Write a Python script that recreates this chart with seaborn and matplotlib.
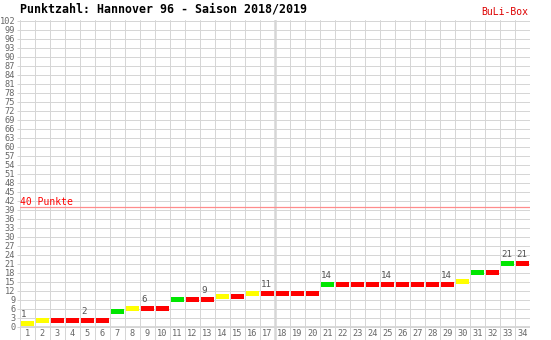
import matplotlib
matplotlib.use("Agg")
import matplotlib.pyplot as plt
import seaborn as sns
import pandas as pd

# ---- data ----
matchdays = [str(i) for i in range(1, 35)]
points = [1, 2, 2, 2, 2, 2, 5, 6, 6, 6, 9, 9, 9, 10, 10, 11, 11, 11, 11, 11,
          14, 14, 14, 14, 14, 14, 14, 14, 14, 15, 18, 18, 21, 21]
results = ["U", "U", "N", "N", "N", "N", "S", "U", "N", "N", "S", "N", "N", "U",
           "N", "U", "N", "N", "N", "N", "S", "N", "N", "N", "N", "N", "N", "N",
           "N", "U", "S", "N", "S", "N"]
labelled_days = ["1", "5", "9", "13", "17", "21", "25", "29", "33", "34"]
yticks = list(range(0, 103, 3))
title = "Punktzahl: Hannover 96 - Saison 2018/2019"
brand = "BuLi-Box"
target_value = 40
target_label = "40 Punkte"

palette = {"S": "#00e600", "U": "#ffff00", "N": "#ff0000"}
grid_c = "#d6d6d6"
mono = "DejaVu Sans Mono"

sns.set_theme(style="white")
plt.rcParams["font.family"] = [mono, "DejaVu Sans"]

W, H = 551, 340
fig = plt.figure(figsize=(W / 100, H / 100), dpi=100)
left_px, right_px, top_px = 20, 530, 20
ax = fig.add_axes([left_px / W, 0, (right_px - left_px) / W, (H - top_px) / H])

df = pd.DataFrame({"day": matchdays, "points": points, "result": results})
sns.barplot(data=df, x="day", y="points", hue="result", palette=palette,
            order=matchdays, dodge=False, width=0.87, legend=False,
            saturation=1, linewidth=0, ax=ax, zorder=3)

# turn bars into floating markers at the points level
for p in ax.patches:
    h = p.get_height()
    if h != h or h == 0:
        continue
    p.set_y(h - 0.7)
    p.set_height(1.7)

ax.set_xlim(-0.5, 33.5)
ax.set_ylim(-4.43, 102.23)

for s in ax.spines.values():
    s.set_visible(False)

ax.set_xlabel("")
ax.set_ylabel("")
ax.set_xticks([])
ax.set_xticks([i - 0.5 for i in range(35)], minor=True)
ax.tick_params(axis="x", which="both", length=0, labelbottom=False)
ax.set_yticks(yticks)
ax.set_yticklabels([str(v) for v in yticks], fontsize=6.2, color="#666666",
                   family=mono)
ax.tick_params(axis="y", which="major", length=2.4, width=0.72, color=grid_c,
               pad=1, left=True)
ax.grid(which="minor", axis="x", color=grid_c, lw=0.72, zorder=0)
ax.grid(which="major", axis="y", color=grid_c, lw=0.72, zorder=0)
ax.axhline(0, color=grid_c, lw=1.3, zorder=1)
ax.axvline(16.5, color=grid_c, lw=1.8, zorder=1)

# x labels inside the lower strip
for i, d in enumerate(matchdays):
    ax.text(i, -2.2, d, ha="center", va="center", fontsize=6.2,
            color="#666666", family=mono)

# value labels
for d in labelled_days:
    i = matchdays.index(d)
    ax.text(i - 0.42, points[i] + 2.4, str(points[i]), ha="left",
            va="baseline", fontsize=6.6, color="#555555", family=mono)

# 40 points line
ax.axhline(target_value, color="#ff8c8c", lw=0.9, zorder=2)
ax.text(-0.5, target_value + 0.7, target_label, ha="left", va="baseline",
        fontsize=7, color="#ff0000", family=mono)

fig.text(20 / W, 1 - 9.5 / H, title, ha="left", va="center", fontsize=8.4,
         fontweight="bold", color="#000000", family=mono)
fig.text(528 / W, 1 - 12 / H, brand, ha="right", va="center", fontsize=7,
         color="#dd0000", family=mono)

fig.savefig("out.png", dpi=100, facecolor="white")
